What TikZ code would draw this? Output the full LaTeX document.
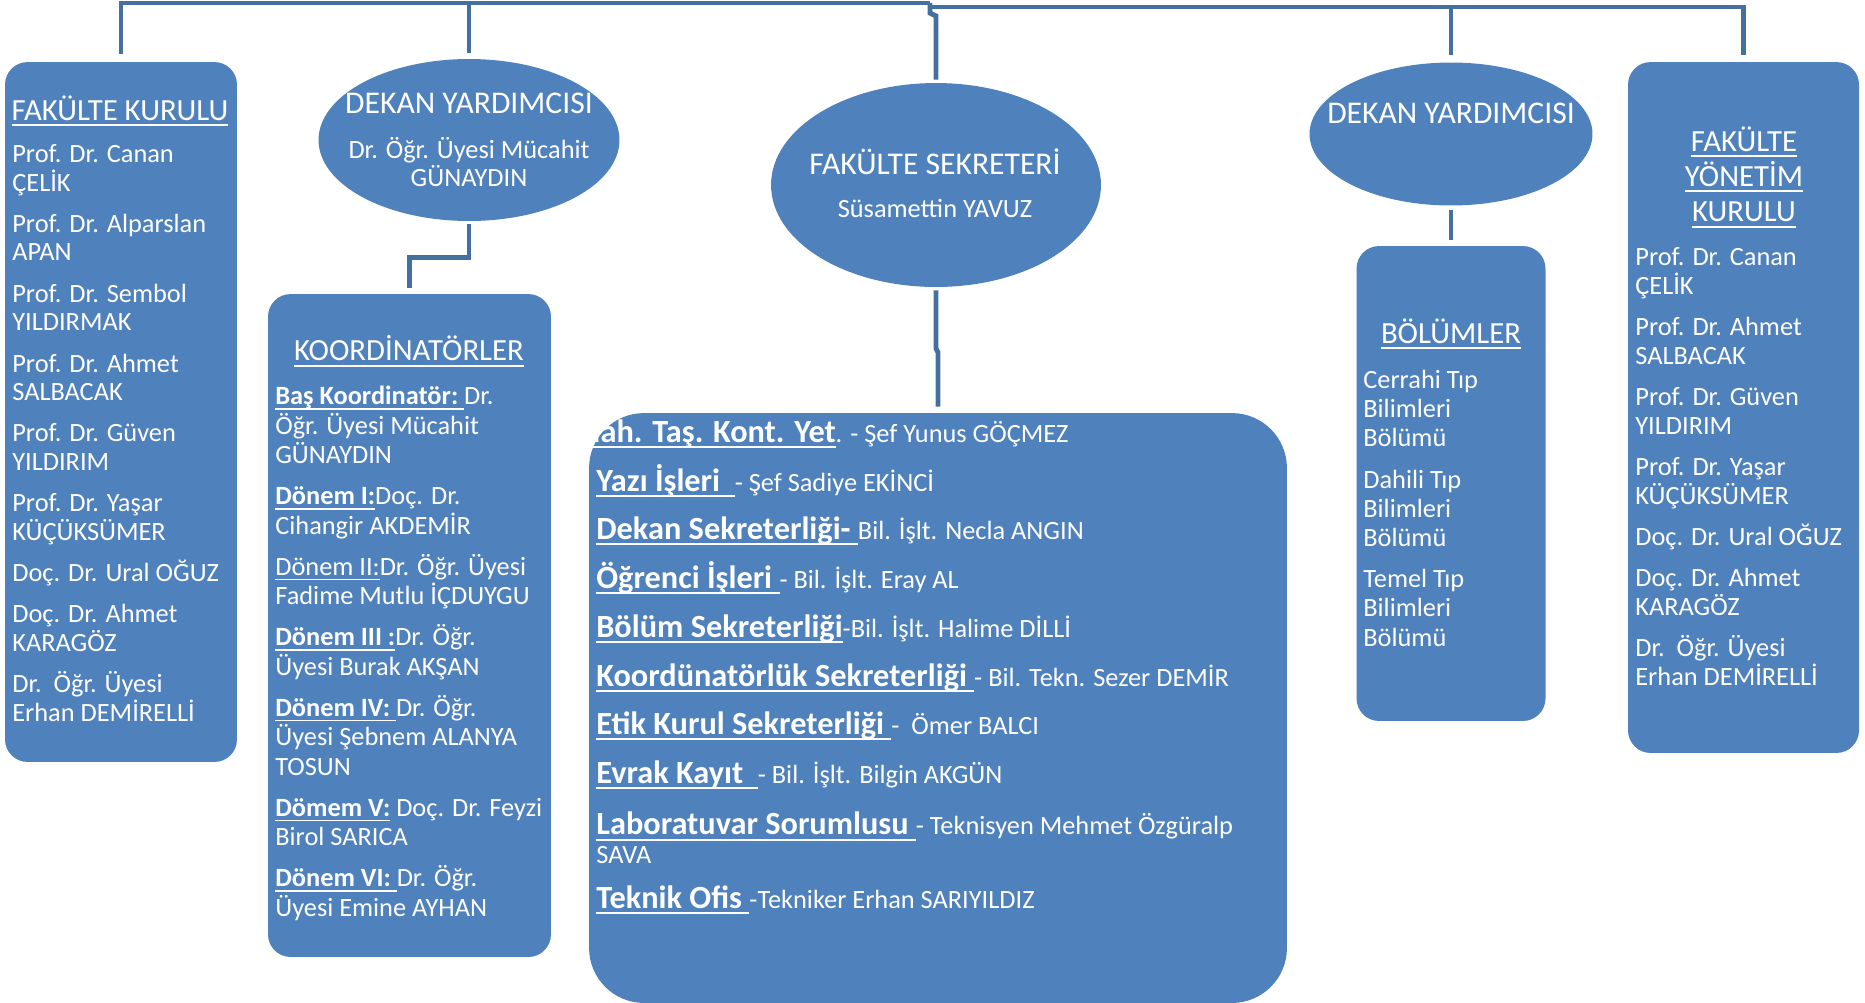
\documentclass[tikz,border=0pt]{standalone}
\usepackage{fontspec}
\setmainfont{Carlito}
\usepackage{xcolor}
\usetikzlibrary{positioning,shapes.geometric}

\definecolor{boxblue}{HTML}{4F81BD}
\definecolor{linkblue}{HTML}{43709F}
\newcommand{\undl}[1]{\leavevmode\setbox0\hbox{#1}\rlap{\rule[-0.2em]{\wd0}{0.065em}}\box0\relax}
\newcommand{\unitname}[1]{{\fontsize{18.4}{20}\selectfont\bfseries\undl{#1}}}
\newcommand{\topln}{\rule{0pt}{1em}}

\begin{document}
\begin{tikzpicture}[x=0.02cm, y=-0.02cm,
    orgbox/.style={fill=boxblue, rounded corners=0.45cm, inner sep=0pt},
    orgoval/.style={ellipse, fill=boxblue, inner sep=0pt},
    conn/.style={draw=linkblue, line width=2.8pt},
    hdr/.style={text=white, font=\fontsize{17.5}{20}\selectfont, align=center, inner sep=0pt},
    ttl/.style={text=white, font=\fontsize{18}{20}\selectfont, inner sep=0pt},
    lst/.style={text=white, font=\fontsize{15}{16.4}\selectfont, align=left, anchor=north west, inner sep=0pt},
    unit/.style={text=white, font=\fontsize{15}{16.4}\selectfont, align=left, anchor=base west, inner sep=0pt},
]
\useasboundingbox (0,0) rectangle (1865,1002);

% Top row
\node[orgbox, minimum width=4.64cm, minimum height=14cm] (kurul) at (121,412) {};
\node[orgoval, minimum width=6.02cm, minimum height=3.24cm] (dekanA) at (469,140) {};
\node[orgoval, minimum width=6.6cm, minimum height=4.08cm] (sekreter) at (936,185) {};
\node[orgoval, minimum width=5.66cm, minimum height=2.86cm] (dekanB) at (1451,134) {};
\node[orgbox, minimum width=4.62cm, minimum height=13.82cm] (yonetim) at (1743.5,407.5) {};

% Lower row
\node[orgbox, minimum width=5.66cm, minimum height=13.26cm] (koord) at (409.5,625.5) {};
\node[orgbox, rounded corners=1.1cm, minimum width=13.96cm, minimum height=11.8cm] (birimler) at (938,708) {};
\node[orgbox, minimum width=3.78cm, minimum height=9.5cm] (bolum) at (1451,483.5) {};

% Connectors
\coordinate (busM) at (930,3);
\coordinate (busN) at (930,7);
\draw[conn] ([yshift=0.16cm]kurul.north) |- (busM);
\draw[conn] ([yshift=0.12cm]dekanA.north) -- (dekanA.north |- busM);
\draw[conn] ([yshift=0.14cm]yonetim.north) |- (busN);
\draw[conn] ([yshift=0.14cm]dekanB.north) -- (dekanB.north |- busN);
\draw[conn] (busM) -- ++(0,10) -- ++(6,3) -- ([yshift=0.06cm]sekreter.north);
\draw[conn] ([yshift=-0.06cm]dekanA.south) -- ++(0,33) -| ([yshift=0.12cm]koord.north);
\draw[conn] ([yshift=-0.06cm]sekreter.south) -- ++(0,58) -- ++(2,4) |- ([yshift=0.12cm]birimler.north);
\draw[conn] ([yshift=-0.08cm]dekanB.south) -- ([yshift=0.12cm]bolum.north);

% Ellipse texts
\node[ttl] (dekanA-t) at (469,103.5) {DEKAN YARDIMCISI};
\node[text=white, font=\fontsize{15}{16.4}\selectfont, align=center, inner sep=0pt] (dekanA-n) at (469,162) {Dr. Öğr. Üyesi Mücahit\\GÜNAYDIN};
\node[ttl] (sekreter-t) at (935,162) {FAKÜLTE SEKRETERİ};
\node[text=white, font=\fontsize{15}{16.4}\selectfont, inner sep=0pt] (sekreter-n) at (935,208) {Süsamettin YAVUZ};
\node[ttl] (dekanB-t) at (1451,113) {DEKAN YARDIMCISI};

% Fakulte kurulu
\node[hdr] (kurul-h) at (120,111) {\undl{FAKÜLTE KURULU}};
\node[lst] (kurul-l) at (12,135.5) {\topln Prof. Dr. Canan\\ÇELİK\\[7pt]Prof. Dr. Alparslan\\APAN\\[7pt]Prof. Dr. Sembol\\YILDIRMAK\\[7pt]Prof. Dr. Ahmet\\SALBACAK\\[7pt]Prof. Dr. Güven\\YILDIRIM\\[7pt]Prof. Dr. Yaşar\\KÜÇÜKSÜMER\\[7pt]Doç. Dr. Ural OĞUZ\\[7pt]Doç. Dr. Ahmet\\KARAGÖZ\\[7pt]Dr.\ \ Öğr. Üyesi\\Erhan DEMİRELLİ};

% Koordinatorler
\node[hdr] (koord-h) at (409,351) {\undl{KOORDİNATÖRLER}};
\node[lst, font=\fontsize{15}{16.8}\selectfont] (koord-l) at (275,378) {\topln\undl{\textbf{Baş Koordinatör:\ }}Dr.\\Öğr. Üyesi Mücahit\\GÜNAYDIN\\[6.5pt]\undl{\textbf{Dönem I:}}Doç. Dr.\\Cihangir AKDEMİR\\[6.5pt]\undl{Dönem II:}Dr. Öğr. Üyesi\\Fadime Mutlu İÇDUYGU\\[6.5pt]\undl{\textbf{Dönem III :}}Dr. Öğr.\\Üyesi Burak AKŞAN\\[6.5pt]\undl{\textbf{Dönem IV:\ }}Dr. Öğr.\\Üyesi Şebnem ALANYA\\TOSUN\\[6.5pt]\undl{\textbf{Dömem V:}} Doç. Dr. Feyzi\\Birol SARICA\\[6.5pt]\undl{\textbf{Dönem VI:\ }}Dr. Öğr.\\Üyesi Emine AYHAN};

% Birimler
\node[unit] (tahakkuk) at (572,442) {\unitname{Mah. Taş. Kont. Yet}. - Şef Yunus GÖÇMEZ};
\node[unit] (yazi) at (596,491) {\unitname{Yazı İşleri\ \ }- Şef Sadiye EKİNCİ};
\node[unit] (dekanlik) at (596,539) {\unitname{Dekan Sekreterliği-\ }Bil. İşlt. Necla ANGIN};
\node[unit] (ogrenci) at (596,588) {\unitname{Öğrenci İşleri\ }- Bil. İşlt. Eray AL};
\node[unit] (bolumsek) at (596,637) {\unitname{Bölüm Sekreterliği}-Bil. İşlt. Halime DİLLİ};
\node[unit] (koordsek) at (596,686) {\unitname{Koordünatörlük Sekreterliği\ }- Bil. Tekn. Sezer DEMİR};
\node[unit] (etik) at (596,734) {\unitname{Etik Kurul Sekreterliği\ }-\ \ Ömer BALCI};
\node[unit] (evrak) at (596,783) {\unitname{Evrak Kayıt\ \ }- Bil. İşlt. Bilgin AKGÜN};
\node[unit] (lab) at (596,863) {\unitname{Laboratuvar Sorumlusu\ }- Teknisyen Mehmet Özgüralp\\SAVA};
\node[unit] (teknik) at (596,908) {\unitname{Teknik Ofis\ }-Tekniker Erhan SARIYILDIZ};

% Bolumler
\node[hdr] (bolum-h) at (1451,334) {\undl{BÖLÜMLER}};
\node[lst, font=\fontsize{15}{16.6}\selectfont] (bolum-l) at (1363,361.5) {\topln Cerrahi Tıp\\Bilimleri\\Bölümü\\[7pt]Dahili Tıp\\Bilimleri\\Bölümü\\[7pt]Temel Tıp\\Bilimleri\\Bölümü};

% Fakulte yonetim kurulu
\node[hdr] (yonetim-h) at (1744,177) {\undl{FAKÜLTE}\\\undl{YÖNETİM}\\\undl{KURULU}};
\node[lst] (yonetim-l) at (1635,239) {\topln Prof. Dr. Canan\\ÇELİK\\[7pt]Prof. Dr. Ahmet\\SALBACAK\\[7pt]Prof. Dr. Güven\\YILDIRIM\\[7pt]Prof. Dr. Yaşar\\KÜÇÜKSÜMER\\[7pt]Doç. Dr. Ural OĞUZ\\[7pt]Doç. Dr. Ahmet\\KARAGÖZ\\[7pt]Dr.\ \ Öğr. Üyesi\\Erhan DEMİRELLİ};

\end{tikzpicture}
\end{document}
